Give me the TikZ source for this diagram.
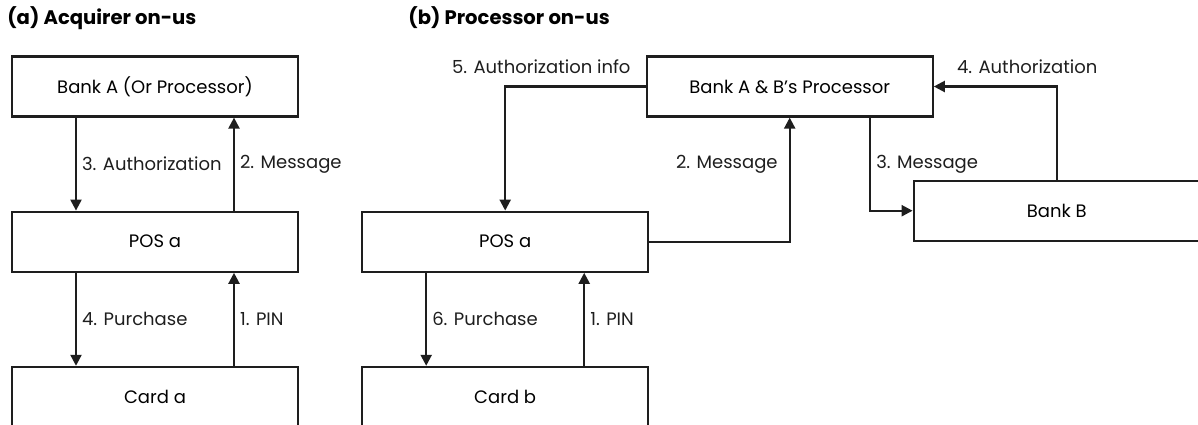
\documentclass[tikz,border=0pt]{standalone}
\usepackage{fontspec}
\setmainfont{Poppins}
\usetikzlibrary{arrows.meta, positioning}
\definecolor{lnDark}{RGB}{30,30,30}

\begin{document}
\begin{tikzpicture}[
    node distance=46.5pt and 31pt,
    box/.style={rectangle, draw=lnDark, line width=1.1pt, minimum width=143pt, minimum height=30pt, inner sep=0pt, align=center, font=\fontsize{9}{11}\selectfont},
    arrow/.style={-{Triangle[length=5.5pt, width=5.5pt]}, line width=1.1pt, lnDark},
    lbl/.style={font=\fontsize{9}{11}\selectfont, inner sep=2.5pt},
    ttl/.style={font=\fontsize{9.8}{11}\selectfont\bfseries, anchor=west, inner sep=0pt}
]
\useasboundingbox (0,0) rectangle (599pt,-212pt);

% Titles
\node[ttl] (ttlA) at (3.5pt,-9pt) {(a) Acquirer on-us};
\node[ttl] (ttlB) at (204pt,-9pt) {(b) Processor on-us};

% (a) Acquirer on-us
\node[box] (bankA) at (77.5pt,-43.25pt) {Bank A (Or Processor)};
\node[box, below=of bankA] (posA) {POS a};
\node[box, below=of posA] (cardA) {Card a};

% (b) Processor on-us
\node[box, right=of posA] (posB) {POS a};
\node[box, below=of posB] (cardB) {Card b};
\node[box, right=173.25pt of bankA] (proc) {Bank A \& B's Processor};
\node[box, below=31pt of proc, xshift=133.5pt] (bankB) {Bank B};

% Arrows (a)
\draw[arrow] ([xshift=-39.5pt]bankA.south) -- node[lbl, right] {3. Authorization} ([xshift=-39.5pt]posA.north);
\draw[arrow] ([xshift=39.5pt]posA.north) -- node[lbl, right] {2. Message} ([xshift=39.5pt]bankA.south);
\draw[arrow] ([xshift=-39.5pt]posA.south) -- node[lbl, right] {4. Purchase} ([xshift=-39.5pt]cardA.north);
\draw[arrow] ([xshift=39.5pt]cardA.north) -- node[lbl, right] {1. PIN} ([xshift=39.5pt]posA.south);

% Arrows (b)
\draw[arrow] ([xshift=-39.5pt]posB.south) -- node[lbl, right] {6. Purchase} ([xshift=-39.5pt]cardB.north);
\draw[arrow] ([xshift=39.5pt]cardB.north) -- node[lbl, right] {1. PIN} ([xshift=39.5pt]posB.south);
\draw[arrow] (proc.west) node[lbl, above left=3.5pt and 4.5pt] {5. Authorization info} -| (posB.north);
\draw[arrow] (posB.east) -| node[lbl, pos=0.81, left=3pt] {2. Message} (proc.south);
\draw[arrow] ([xshift=40.25pt]proc.south) |- node[lbl, pos=0.25, right] {3. Message} (bankB.west);
\draw[arrow] (bankB.north) |- node[lbl, pos=0.62, above=3.5pt] {4. Authorization} (proc.east);

\end{tikzpicture}
\end{document}
